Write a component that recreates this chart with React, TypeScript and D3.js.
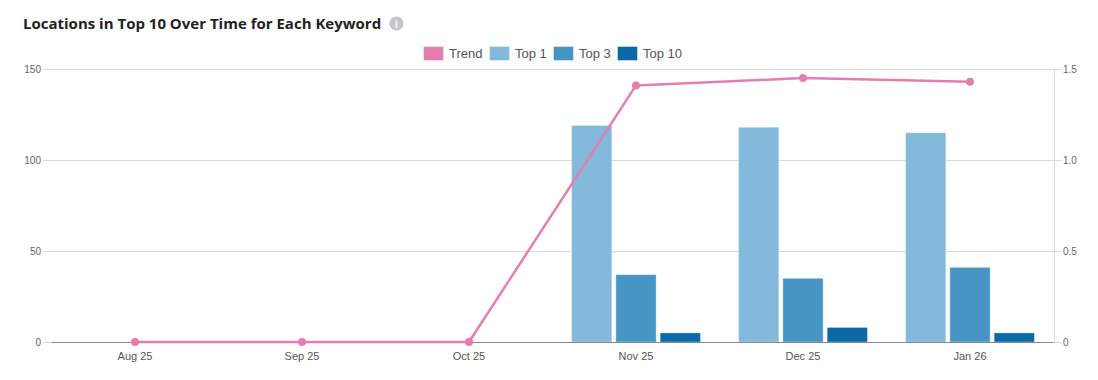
import React from "react";
import * as d3 from "d3";

const categories = ["Aug 25", "Sep 25", "Oct 25", "Nov 25", "Dec 25", "Jan 26"];
const top1 = [0, 0, 0, 119, 118, 115];
const top3 = [0, 0, 0, 37, 35, 41];
const top10 = [0, 0, 0, 5, 8, 5];
const trend = [0, 0, 0, 1.41, 1.45, 1.43];
const leftTicks = [0, 50, 100, 150];
const rightTicks = [0, 0.5, 1.0, 1.5];
const seriesNames = ["Top 1", "Top 3", "Top 10"];

const W = 1098, H = 380;
const M = { left: 51.5, right: 1053.5, top: 69, bottom: 342 };
const COLORS: Record<string, string> = {
  Trend: "#e37fae",
  "Top 1": "#85b9dc",
  "Top 3": "#4795c5",
  "Top 10": "#0b69a7",
};

export default function App() {
  const x = d3.scaleBand<string>().domain(categories).range([M.left, M.right]).padding(0);
  const yL = d3.scaleLinear().domain([0, 150]).range([M.bottom, M.top]);
  const yR = d3.scaleLinear().domain([0, 1.5]).range([M.bottom, M.top]);
  const barW = 40.3;
  const step = 44.3;
  const inner = d3
    .scaleBand<string>()
    .domain(seriesNames)
    .range([-step * 1.5, step * 1.5]);
  const series = [top1, top3, top10];
  const cx = (c: string) => (x(c) as number) + x.bandwidth() / 2;
  const line = d3
    .line<number>()
    .x((_, i) => cx(categories[i]))
    .y((d) => yR(d));

  const legendItems = [
    { name: "Trend", x: 423, w: 21 },
    { name: "Top 1", x: 489, w: 21 },
    { name: "Top 3", x: 553, w: 21 },
    { name: "Top 10", x: 617, w: 21 },
  ];

  const axisFont = "'Liberation Sans', Arial, sans-serif";

  return (
    <svg width={W} height={H} style={{ display: "block", position: "absolute", left: 0, top: 0 }}>
      <rect width={W} height={H} fill="#fff" />
      <text x={23} y={29} fontFamily="'Open Sans', sans-serif" fontWeight={700} fontSize={15} fill="#222">
        Locations in Top 10 Over Time for Each Keyword
      </text>
      <circle cx={396.5} cy={23.5} r={7} fill="#c2c6cc" />
      <text x={396.5} y={27.5} textAnchor="middle" fontFamily={axisFont} fontSize={10} fontWeight={700} fill="#fff">i</text>

      {legendItems.map((l) => (
        <g key={l.name}>
          <rect x={l.x + 0.5} y={46.5} width={l.w - 1} height={14} fill={COLORS[l.name]} stroke="#fff" strokeOpacity={0.4} />
          <text x={l.x + l.w + 5} y={58} fontFamily={axisFont} fontSize={13} fill="#555">{l.name}</text>
        </g>
      ))}

      {leftTicks.map((t) => (
        <g key={"l" + t}>
          <line x1={43} x2={M.right} y1={Math.round(yL(t)) + 0.5} y2={Math.round(yL(t)) + 0.5} stroke="#d9d9d9" />
          <text x={41} y={yL(t) + 4} textAnchor="end" fontFamily={axisFont} fontSize={10} fill="#666">{t}</text>
        </g>
      ))}
      {rightTicks.map((t) => (
        <g key={"r" + t}>
          <line x1={M.right} x2={1062} y1={Math.round(yR(t)) + 0.5} y2={Math.round(yR(t)) + 0.5} stroke="#d9d9d9" />
          <text x={1063} y={yR(t) + 4} textAnchor="start" fontFamily={axisFont} fontSize={10} fill="#666">{t === 0 ? "0" : t.toFixed(1)}</text>
        </g>
      ))}
      <line x1={Math.round(M.right) + 0.5} x2={Math.round(M.right) + 0.5} y1={M.top} y2={M.bottom} stroke="#d9d9d9" />

      {categories.map((c, i) =>
        series.map((s, j) =>
          s[i] > 0 ? (
            <rect
              key={c + j}
              x={cx(c) + (inner(seriesNames[j]) as number) + (step - barW) / 2}
              y={yL(s[i])}
              width={barW}
              height={M.bottom - yL(s[i])}
              fill={COLORS[seriesNames[j]]}
              stroke="#ffffff"
              strokeOpacity={0.35}
              strokeWidth={1}
            />
          ) : null
        )
      )}

      <line x1={M.left} x2={M.right} y1={M.bottom + 0.5} y2={M.bottom + 0.5} stroke="#888" />

      {categories.map((c) => (
        <text key={"x" + c} x={cx(c)} y={360} textAnchor="middle" fontFamily={axisFont} fontSize={11} fill="#555">{c}</text>
      ))}

      <path d={line(trend) || ""} fill="none" stroke={COLORS.Trend} strokeWidth={2.5} strokeLinejoin="round" />
      {trend.map((v, i) => (
        <circle key={"p" + i} cx={cx(categories[i])} cy={yR(v)} r={4} fill={COLORS.Trend} />
      ))}
    </svg>
  );
}
